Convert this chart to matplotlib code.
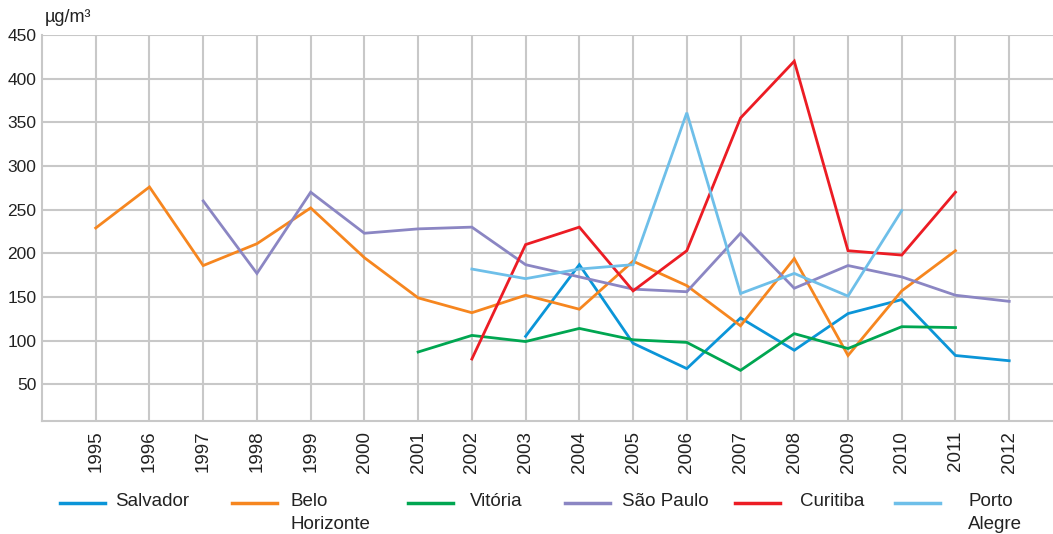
import matplotlib.pyplot as plt
from matplotlib.lines import Line2D
import numpy as np

plt.rcParams['font.family'] = ['Liberation Sans', 'DejaVu Sans']

nan = np.nan
anos = list(range(1995, 2013))

# valores em µg/m³ (nan = sem dado)
salvador = [nan, nan, nan, nan, nan, nan, nan, nan, 105, 187, 97, 68, 126, 89, 131, 147, 83, 77]
belo_horizonte = [229, 276, 186, 211, 252, 195, 149, 132, 152, 136, 191, 163, 117, 194, 83, 157, 203, nan]
vitoria = [nan, nan, nan, nan, nan, nan, 87, 106, 99, 114, 101, 98, 66, 108, 91, 116, 115, nan]
sao_paulo = [nan, nan, 260, 177, 270, 223, 228, 230, 187, 173, 159, 156, 223, 160, 186, 173, 152, 145]
curitiba = [nan, nan, nan, nan, nan, nan, nan, 79, 210, 230, 157, 203, 355, 420, 203, 198, 270, nan]
porto_alegre = [nan, nan, nan, nan, nan, nan, nan, 182, 171, 182, 187, 361, 154, 177, 151, 249, nan, nan]

series = [
    ('Salvador', salvador, '#0b95d8'),
    ('Belo\nHorizonte', belo_horizonte, '#f6861f'),
    ('Vitória', vitoria, '#00a651'),
    ('São Paulo', sao_paulo, '#8b86c3'),
    ('Curitiba', curitiba, '#ec1c24'),
    ('Porto\nAlegre', porto_alegre, '#6ebfe9'),
]

fig = plt.figure(figsize=(10.53, 5.34), dpi=100)
ax = fig.add_axes([42 / 1053, 1 - 421 / 534, 1 - 42 / 1053, (421 - 35) / 534])

for nome, valores, cor in series:
    ax.plot(anos, valores, color=cor, linewidth=2, solid_joinstyle='miter')

grid_cor = '#c8c8c8'
ax.set_xlim(1994, 2012.815)
ax.set_ylim(8, 450)
ax.set_xticks(anos)
ax.set_xticklabels([str(a) for a in anos], rotation=90, fontsize=13.5)
ax.set_yticks(range(50, 451, 50))
ax.tick_params(axis='y', labelsize=12.5, length=0, pad=4, colors='#222222')
ax.tick_params(axis='x', length=0, pad=7, colors='#222222')
ax.grid(True, color=grid_cor, linewidth=1.5)
ax.set_axisbelow(True)
for s in ['top', 'right']:
    ax.spines[s].set_visible(False)
for s in ['left', 'bottom']:
    ax.spines[s].set_color(grid_cor)
    ax.spines[s].set_linewidth(1.5)

fig.text(45 / 1053, 1 - 18 / 534, 'µg/m³', fontsize=13, va='center', ha='left', color='#222222')

# legenda manual (rótulos de duas linhas alinhados pelo topo)
leg_x = [60, 232, 408, 565, 735, 895]
txt_x = [115, 290, 470, 622, 800, 968]
leg_y = 1 - 503 / 534
for (nome, valores, cor), lx, tx in zip(series, leg_x, txt_x):
    fig.add_artist(Line2D([lx / 1053, (lx + 45) / 1053], [leg_y, leg_y],
                          color=cor, linewidth=2.5, transform=fig.transFigure))
    fig.text(tx / 1053, leg_y + 0.018, nome, fontsize=13.5, va='top', ha='left',
             color='#222222', linespacing=1.45)

fig.savefig('out.png', dpi=100)
